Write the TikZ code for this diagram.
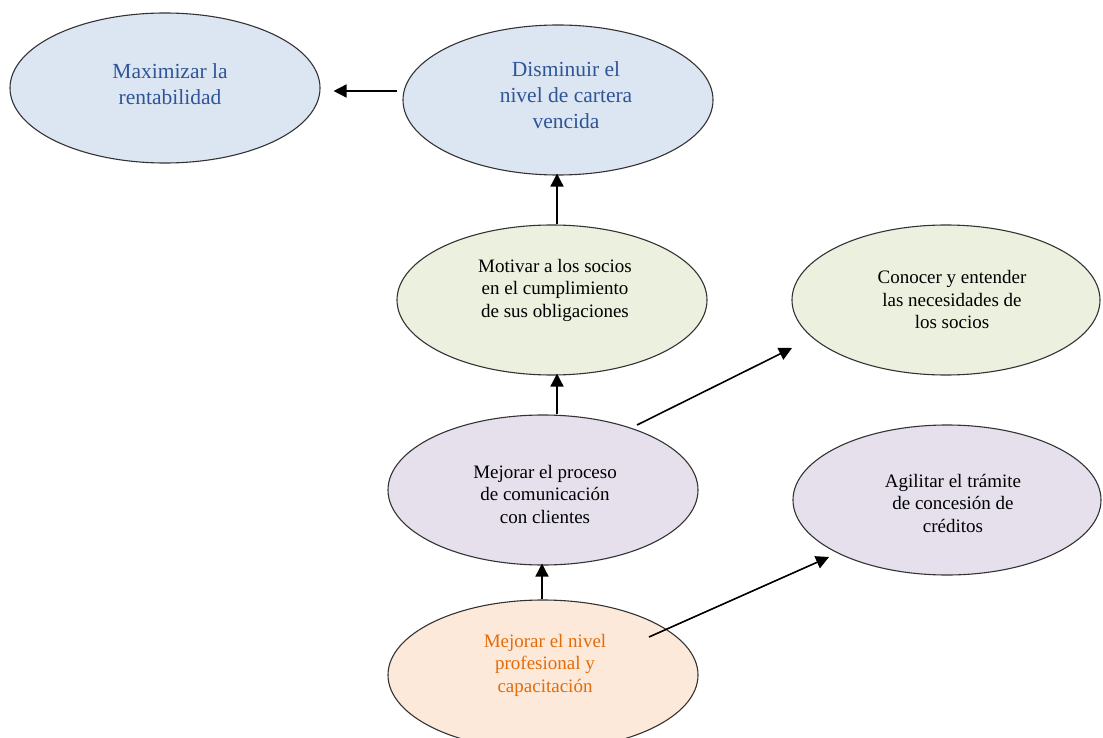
\documentclass[tikz,border=0pt]{standalone}
\usepackage{fontspec}
\setmainfont{Liberation Serif}
\usetikzlibrary{shapes.geometric,arrows.meta}

\definecolor{blueFill}{HTML}{DCE6F2}
\definecolor{blueText}{HTML}{2F5597}
\definecolor{greenFill}{HTML}{EBF1DE}
\definecolor{lilacFill}{HTML}{E5E0EC}
\definecolor{peachFill}{HTML}{FDE9D9}
\definecolor{orangeText}{HTML}{E36C09}
\definecolor{rimGray}{HTML}{333333}

\tikzset{
  blob/.style={ellipse, draw=rimGray, line width=1.1pt, minimum width=310pt,
    minimum height=150pt, inner sep=0pt},
  txt/.style={align=center, inner sep=0pt, font=\fontsize{19}{22.5}\selectfont},
  bigtxt/.style={txt, text=blueText, font=\fontsize{21.5}{26}\selectfont},
  arr/.style={line width=1.6pt, -{Triangle[length=13pt,width=13pt]}}
}

\begin{document}
\begin{tikzpicture}[x=1pt,y=-1pt]
\useasboundingbox (0,0) rectangle (1103,738);

% ellipses
\node[blob, fill=blueFill] (e1) at (165,88) {};
\node[blob, fill=blueFill] (e2) at (558,100) {};
\node[blob, fill=greenFill] (e3) at (552,300) {};
\node[blob, fill=greenFill, minimum width=308pt] (e4) at (946,300) {};
\node[blob, fill=lilacFill] (e5) at (543,490) {};
\node[blob, fill=lilacFill, minimum width=308pt] (e6) at (947,500) {};
\node[blob, fill=peachFill] (e7) at (543,675) {};

% texts
\node[bigtxt] (t1) at (170,84) {Maximizar la\\rentabilidad};
\node[bigtxt] (t2) at (566,95) {Disminuir el\\nivel de cartera\\vencida};
\node[txt] (t3) at (555,290) {Motivar a los socios\\en el cumplimiento\\de sus obligaciones};
\node[txt] (t4) at (952,300) {Conocer y entender\\las necesidades de\\los socios};
\node[txt] (t5) at (545,494) {Mejorar el proceso\\de comunicación\\con clientes};
\node[txt] (t6) at (953,503) {Agilitar el trámite\\de concesión de\\créditos};
\node[txt, text=orangeText] (t7) at (545,665) {Mejorar el nivel\\profesional y\\capacitación};

% connectors
\coordinate (colA) at (557,0);
\coordinate (colB) at (542,0);

\draw[arr] ([shift={(-5,-9)}]e2.west) -- ([shift={(13,3)}]e1.east);
\draw[arr] (colA |- e3.north) -- ([yshift=2]colA |- e2.south);
\draw[arr] (colA |- e5.north) -- ([yshift=2]colA |- e3.south);
\draw[arr] (colB |- e7.north) -- ([yshift=2]colB |- e5.south);
\draw[arr] ([shift={(94,-65)}]e5.center) -- ([shift={(-154,48)}]e4.center);
\draw[arr] ([shift={(106,-38)}]e7.center) -- ([shift={(-118,57)}]e6.center);
\end{tikzpicture}
\end{document}
